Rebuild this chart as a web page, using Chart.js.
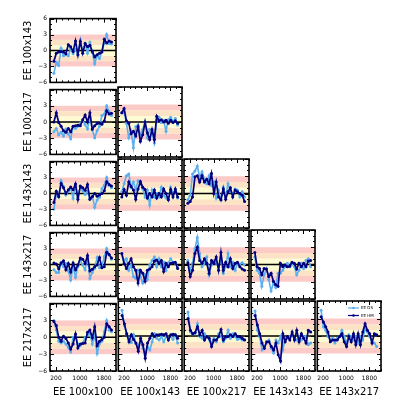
<!DOCTYPE html>
<html>
<head>
<meta charset="utf-8">
<script src="https://cdn.jsdelivr.net/npm/chart.js@4.4.1/dist/chart.umd.min.js"></script>
<style>
  html, body { margin: 0; padding: 0; background: #fff; }
  #wrap { position: relative; width: 414px; height: 414px; overflow: hidden; }
  #wrap canvas { position: absolute; }
</style>
</head>
<body>
<div id="wrap"></div>
<script>
// axis labels
const rowLabels = ["EE 100x143", "EE 100x217", "EE 143x143", "EE 143x217", "EE 217x217"];
const colLabels = ["EE 100x100", "EE 100x143", "EE 100x217", "EE 143x143", "EE 143x217"];

// multipole bins
const ell = [130, 210, 290, 370, 450, 530, 610, 690, 770, 850, 930, 1010, 1090,
  1170, 1250, 1330, 1410, 1490, 1570, 1650, 1730, 1810, 1890, 1970, 2050];

// ticks
const xTickLabels = [200, 1000, 1800];
const xMinorTicks = [0, 200, 400, 600, 800, 1000, 1200, 1400, 1600, 1800, 2000, 2200];
const yTickLabels = [-6, -3, 0, 3, 6];
const yMinorTicks = [-6, -5, -4, -3, -2, -1, 0, 1, 2, 3, 4, 5, 6];

// residuals per panel (row r, column c)
const dsR1C1 = [-4.3, -2.2, -2.8, 0.4, -1.0, -0.8, -1.0, 0.4, -0.6, 0.2, -0.8, 2.0, -0.3, 1.3, -0.5, 1.5, -0.4, -2.5, -0.9, -1.5, -0.2, 1.4, 3.0, 1.3, 1.2];
const hmR1C1 = [-2.0, -0.5, -0.3, -0.2, -0.3, -0.6, 1.1, 0.7, -0.2, 1.8, -0.8, 1.7, -0.5, 1.3, 0.7, 1.0, -0.2, -1.2, -0.8, -0.5, -0.3, 2.1, 1.4, 1.8, 1.6];

const dsR2C1 = [-1.8, -1.2, -2.4, -1.9, -2.6, -1.3, -2.2, -3.1, -0.8, -1.2, -0.8, -0.2, 0.3, -0.5, -1.3, 0.9, -1.5, -2.9, -1.6, -0.8, 1.2, 1.5, 3.0, 1.9, 1.2];
const hmR2C1 = [0.0, 1.7, -0.1, -0.8, -1.6, -1.9, -1.2, -1.8, -0.8, -0.7, -0.6, -0.7, 0.4, 1.3, 0.0, 1.7, -1.3, -0.7, -0.3, -0.2, -0.4, 0.2, 2.1, 1.5, 1.6];
const dsR2C2 = [1.6, 1.7, -0.2, -2.7, -1.6, -4.4, -0.8, -0.5, -2.2, -1.3, 0.0, -2.7, -1.3, -1.9, -3.6, 0.3, 0.8, -0.1, 0.3, -1.6, 0.4, 0.8, 0.1, 0.6, -0.5];
const hmR2C2 = [1.6, 2.3, 0.2, -0.2, -2.0, -1.6, -2.4, -0.8, -3.3, -2.2, 0.0, -1.9, -3.0, -1.3, -3.0, 1.0, 0.2, 0.4, 0.0, 0.3, -0.2, 0.3, -0.1, 0.2, -0.2];

const dsR3C1 = [-2.9, -0.2, -0.5, 2.4, 1.3, -0.3, 0.4, 1.0, -0.9, 1.7, -0.8, 1.3, 0.5, -0.2, 0.4, -1.0, -0.4, -2.6, -1.2, -0.7, 0.9, 1.6, 3.0, 1.5, 1.1];
const hmR3C1 = [-1.7, 0.4, -0.6, 1.9, 1.1, 0.0, 0.7, 1.2, 0.7, 1.8, -1.1, 1.4, 1.1, 0.6, 1.7, -1.1, -0.6, 0.0, -0.5, -0.3, 0.0, 0.5, 2.2, 1.7, 1.4];
const dsR3C2 = [0.3, 1.7, 3.1, 3.4, 1.1, 2.0, 0.6, 2.2, 1.7, 0.8, -0.6, 0.6, -2.0, 0.6, -0.6, 0.0, -0.6, 1.1, -0.3, -0.8, -1.1, 1.1, 0.0, 0.6, -0.8];
const hmR3C2 = [-0.6, 0.7, -0.3, 2.0, 1.2, 0.6, -1.0, 0.8, 2.1, 1.1, 0.7, -0.8, 0.0, -0.6, 0.6, -0.8, 0.0, -0.6, 0.8, 0.0, -1.1, 0.7, -0.6, 0.8, -0.6];
const dsR3C3 = [-1.1, -0.3, 3.4, 3.9, 4.8, 2.8, 3.8, 2.5, 1.7, 3.1, 1.4, 2.0, -0.8, 0.6, -1.1, 1.1, -0.6, 1.7, 0.3, 0.0, 0.8, 0.6, -0.6, 0.3, -0.6];
const hmR3C3 = [-1.7, -1.4, -0.6, 2.9, 3.1, 2.0, 3.1, 2.0, 2.5, 1.7, 3.5, 0.0, 2.0, -0.6, -1.1, 0.8, -1.0, 0.3, 1.0, -0.6, 0.6, 0.3, 0.0, -0.3, -1.4];

const dsR4C1 = [-1.0, -1.5, -1.5, 0.4, -0.4, 0.2, -1.2, -2.9, -0.4, -2.4, -0.4, 0.8, -0.1, -1.0, 1.3, -2.6, -1.5, -0.7, 1.3, -0.6, -0.3, 1.5, 3.0, 1.8, 1.0];
const hmR4C1 = [0.3, 0.1, -0.8, 0.3, 0.7, -1.0, 0.2, -1.4, 0.3, -1.0, -0.1, 1.2, 1.0, 0.2, 1.7, -1.2, -0.9, -0.4, -0.1, 1.3, -0.6, -0.4, 2.3, 1.9, 1.2];
const dsR4C2 = [1.9, 0.7, 1.0, -1.0, -0.1, -2.1, -2.4, -1.0, -2.1, -3.2, -1.8, -2.6, -0.1, 0.7, 1.3, -0.4, 1.0, -0.4, 0.4, -1.0, 0.3, 1.0, 0.4, 0.2, -0.4];
const hmR4C2 = [1.9, 0.2, -0.7, 0.2, 1.0, -0.4, -1.0, -3.2, -1.0, -1.5, -2.9, -1.0, -0.8, -0.4, 0.6, 0.8, 0.2, 0.7, -1.2, 0.2, -0.4, 0.2, 0.3, 0.4, -0.7];
const dsR4C3 = [0.7, -1.0, 0.2, 2.7, 4.7, 1.9, -0.4, 0.2, 1.3, -1.8, -0.1, 0.7, 0.2, -0.4, 0.7, -1.5, -0.4, 1.9, -0.4, 0.4, -1.0, 0.2, 0.1, 0.3, -0.1];
const hmR4C3 = [0.3, -2.1, -1.0, 1.9, 3.0, 0.7, 0.2, 1.0, 0.2, -1.5, 0.7, 0.2, 1.3, -1.0, 2.1, -1.0, 0.4, -0.4, 1.0, -0.7, 0.2, 0.4, -0.4, -0.8, -1.0];
const dsR4C4 = [1.3, -1.0, -1.5, -3.8, -1.8, -0.7, -2.6, -4.6, -3.2, -4.0, -1.5, -1.5, -1.0, -0.4, 0.2, -0.4, 0.2, -0.4, -1.8, -1.0, 0.2, -0.7, 0.7, 1.0, -0.4];
const hmR4C4 = [2.1, -0.4, -0.7, -1.8, -0.7, -0.8, -2.1, -1.5, -2.9, -3.5, -3.8, 0.2, -0.4, -0.1, -0.4, -0.3, 0.4, 0.2, -0.8, 0.2, -0.4, 0.2, -0.4, 0.6, 0.7];

const dsR5C1 = [3.0, 1.3, -0.7, -1.0, -0.7, -1.2, -1.8, -2.6, 0.0, 0.2, -1.2, -1.5, -1.0, -0.1, 0.4, 0.7, -1.2, 0.4, -2.9, -1.2, -0.7, 1.0, 3.0, 1.3, 1.0];
const hmR5C1 = [2.8, 2.1, 0.0, -0.7, 0.2, -0.2, -1.0, -2.1, -1.2, 0.6, -1.9, -1.2, -1.1, -1.0, 0.9, 1.3, -0.1, 1.9, -1.5, -0.7, -0.4, 0.0, 2.4, 1.9, 1.3];
const dsR5C2 = [4.4, 1.8, 0.4, -0.7, -1.1, 0.2, -1.3, -1.8, -0.7, -2.1, -2.9, -1.8, -2.4, -1.0, 0.4, -0.4, -0.7, -0.1, -1.0, -0.1, -0.4, -0.1, -0.6, 0.2, -1.2];
const hmR5C2 = [3.5, 2.1, 0.4, -1.0, 0.2, -0.6, -1.2, -2.6, -0.4, -1.5, -3.8, -1.2, -0.4, 0.4, -0.1, 0.2, 0.2, 0.3, 0.2, 0.4, -0.7, 0.2, 0.3, 0.2, -0.4];
const dsR5C3 = [4.1, 0.7, 0.4, 0.4, 2.1, -0.1, -0.4, 0.4, -0.1, -0.7, -1.2, -0.4, -1.0, 0.4, -0.1, -1.0, -0.4, 1.0, -0.4, 0.4, -0.1, -0.6, -0.4, -0.7, -0.6];
const hmR5C3 = [3.0, 1.0, 0.4, 0.6, 1.6, 0.2, 1.0, -0.7, -0.1, -0.4, -1.8, -0.7, -0.7, -0.1, 1.1, -0.7, -0.1, -0.1, 0.2, -0.1, 0.4, -0.1, -0.1, -0.4, -0.7];
const dsR5C4 = [4.3, 1.0, -0.1, -2.4, -1.8, -1.2, -0.7, -2.1, -2.9, -0.7, -1.2, -0.1, -2.4, -0.4, -0.4, -0.1, 0.2, -0.4, -0.7, -0.1, -0.7, -0.1, -0.1, -1.5, -1.2];
const hmR5C4 = [3.5, 1.9, 0.4, -1.2, -2.1, -1.0, -1.0, -1.8, -2.4, -1.2, -3.2, -4.3, 0.4, -1.0, -0.1, -0.7, 0.7, -0.7, 1.0, -1.0, 0.4, -0.4, -1.2, 1.0, 0.7];
const dsR5C5 = [4.4, 1.6, 1.0, -0.1, -0.7, -0.4, -1.2, -0.4, -0.1, 1.0, -0.1, -1.2, 0.2, -0.1, -0.7, -0.1, -1.2, -0.1, -0.7, 1.3, 0.7, -0.1, -1.0, -1.2, -1.8];
const hmR5C5 = [3.3, 2.4, 1.6, 0.7, -1.0, -0.7, -0.7, -0.7, -0.1, 0.4, -1.0, -1.8, -0.1, -1.0, 0.4, -1.5, 0.4, -1.5, 0.7, 2.1, 1.0, 0.4, -1.2, 0.4, 0.2];

const panels = [
  { r: 0, c: 0, ds: dsR1C1, hm: hmR1C1 },
  { r: 1, c: 0, ds: dsR2C1, hm: hmR2C1 },
  { r: 1, c: 1, ds: dsR2C2, hm: hmR2C2 },
  { r: 2, c: 0, ds: dsR3C1, hm: hmR3C1 },
  { r: 2, c: 1, ds: dsR3C2, hm: hmR3C2 },
  { r: 2, c: 2, ds: dsR3C3, hm: hmR3C3 },
  { r: 3, c: 0, ds: dsR4C1, hm: hmR4C1 },
  { r: 3, c: 1, ds: dsR4C2, hm: hmR4C2 },
  { r: 3, c: 2, ds: dsR4C3, hm: hmR4C3 },
  { r: 3, c: 3, ds: dsR4C4, hm: hmR4C4 },
  { r: 4, c: 0, ds: dsR5C1, hm: hmR5C1 },
  { r: 4, c: 1, ds: dsR5C2, hm: hmR5C2 },
  { r: 4, c: 2, ds: dsR5C3, hm: hmR5C3 },
  { r: 4, c: 3, ds: dsR5C4, hm: hmR5C4 },
  { r: 4, c: 4, ds: dsR5C5, hm: hmR5C5 },
];

// grid layout (panel edges, px)
const colX = [50, 117, 183, 250, 316, 382];
const rowY = [15, 86, 158, 229, 300, 371];
const PAD = 3;
const LEFT_AXIS = 50;
const BOTTOM_AXIS = 36;

const DS_COLOR = "#5aaff0";
const HM_COLOR = "#000080";
const bands = [
  [2, 3, "#fccbc7"], [-3, -2, "#fccbc7"],
  [1, 2, "#fde3c6"], [-2, -1, "#fde3c6"],
  [-1, 1, "#fefad2"],
];

Chart.defaults.font.family = "'DejaVu Sans', sans-serif";
Chart.defaults.color = "#000";

function fmt(v) {
  return v < 0 ? "\u2212" + Math.abs(v) : String(v);
}

const panelDecor = {
  id: "panelDecor",
  beforeDatasetsDraw(chart) {
    const { ctx, chartArea: a, scales: { y } } = chart;
    ctx.save();
    bands.forEach(([lo, hi, col]) => {
      const y1 = y.getPixelForValue(hi);
      const y2 = y.getPixelForValue(lo);
      ctx.fillStyle = col;
      ctx.fillRect(a.left, y1, a.right - a.left, y2 - y1);
    });
    const y0 = y.getPixelForValue(0);
    ctx.strokeStyle = "#000";
    ctx.lineWidth = 1.6;
    ctx.beginPath();
    ctx.moveTo(a.left, y0);
    ctx.lineTo(a.right, y0);
    ctx.stroke();
    ctx.restore();
  },
  afterDatasetsDraw(chart, args, opts) {
    const { ctx, chartArea: a, scales: { x, y } } = chart;
    ctx.save();
    ctx.strokeStyle = "#000";
    ctx.lineWidth = 1;
    ctx.beginPath();
    yMinorTicks.forEach((v) => {
      const p = Math.round(y.getPixelForValue(v)) + 0.5;
      const len = yTickLabels.includes(v) ? 4 : 2;
      ctx.moveTo(a.left, p); ctx.lineTo(a.left + len, p);
      ctx.moveTo(a.right, p); ctx.lineTo(a.right - len, p);
    });
    xMinorTicks.forEach((v) => {
      const p = Math.round(x.getPixelForValue(v)) + 0.5;
      const len = xTickLabels.includes(v) ? 4 : 2;
      ctx.moveTo(p, a.top); ctx.lineTo(p, a.top + len);
      ctx.moveTo(p, a.bottom); ctx.lineTo(p, a.bottom - len);
    });
    ctx.stroke();
    ctx.lineWidth = 1.6;
    ctx.strokeRect(a.left, a.top, a.right - a.left, a.bottom - a.top);

    if (opts.legend) {
      ctx.font = "4px 'DejaVu Sans'";
      ctx.textBaseline = "middle";
      chart.data.datasets.forEach((d, i) => {
        const ly = a.top + 7 + i * 7.5;
        ctx.strokeStyle = d.borderColor;
        ctx.fillStyle = d.borderColor;
        ctx.lineWidth = 1.2;
        ctx.beginPath();
        ctx.moveTo(a.right - 33, ly);
        ctx.lineTo(a.right - 22, ly);
        ctx.stroke();
        ctx.beginPath();
        ctx.arc(a.right - 27.5, ly, 1.3, 0, Math.PI * 2);
        ctx.fill();
        ctx.fillStyle = "#000";
        ctx.fillText(d.label, a.right - 20, ly);
      });
    }
    ctx.restore();
  },
};

const wrap = document.getElementById("wrap");

panels.forEach((p) => {
  const padL = p.c === 0 ? LEFT_AXIS : PAD;
  const padB = p.r === 4 ? BOTTOM_AXIS : PAD;
  const w = colX[p.c + 1] - colX[p.c] + padL + PAD;
  const h = rowY[p.r + 1] - rowY[p.r] + PAD + padB;

  const canvas = document.createElement("canvas");
  canvas.width = w;
  canvas.height = h;
  canvas.style.width = w + "px";
  canvas.style.height = h + "px";
  canvas.style.left = (colX[p.c] - padL) + "px";
  canvas.style.top = (rowY[p.r] - PAD) + "px";
  wrap.appendChild(canvas);

  new Chart(canvas, {
    type: "line",
    data: {
      datasets: [
        {
          label: "EE DS",
          data: ell.map((v, i) => ({ x: v, y: p.ds[i] })),
          borderColor: DS_COLOR,
          backgroundColor: DS_COLOR,
          borderWidth: 1.6,
          pointRadius: 1.5,
          pointBorderWidth: 0,
          tension: 0,
          order: 1,
        },
        {
          label: "EE HM",
          data: ell.map((v, i) => ({ x: v, y: p.hm[i] })),
          borderColor: HM_COLOR,
          backgroundColor: HM_COLOR,
          borderWidth: 1.7,
          pointRadius: 1.5,
          pointBorderWidth: 0,
          tension: 0,
          order: 0,
        },
      ],
    },
    options: {
      responsive: false,
      animation: false,
      events: [],
      layout: {
        padding: { left: p.c === 0 ? 0 : PAD, right: PAD, top: PAD, bottom: p.r === 4 ? 0 : PAD },
      },
      plugins: {
        legend: { display: false },
        tooltip: { enabled: false },
        panelDecor: { legend: p.r === 4 && p.c === 4 },
      },
      scales: {
        x: {
          type: "linear",
          min: 0,
          max: 2200,
          grid: { display: false, drawTicks: false },
          border: { display: false },
          afterBuildTicks: (s) => { s.ticks = xTickLabels.map((v) => ({ value: v })); },
          afterFit: (s) => { s.height = p.r === 4 ? BOTTOM_AXIS : 0; },
          ticks: {
            display: p.r === 4,
            autoSkip: false,
            maxRotation: 0,
            minRotation: 0,
            padding: 4,
            font: { size: 6 },
            callback: (v) => String(v),
          },
          title: {
            display: p.r === 4,
            text: colLabels[p.c],
            font: { size: 10 },
            padding: { top: 0, bottom: 9 },
          },
        },
        y: {
          type: "linear",
          min: -6,
          max: 6,
          grid: { display: false, drawTicks: false },
          border: { display: false },
          afterBuildTicks: (s) => { s.ticks = yTickLabels.map((v) => ({ value: v })); },
          afterFit: (s) => { s.width = p.c === 0 ? LEFT_AXIS : 0; },
          ticks: {
            display: p.c === 0,
            padding: 3,
            font: { size: 6 },
            callback: (v) => (p.r > 0 && v === 6 ? "" : fmt(v)),
          },
          title: {
            display: p.c === 0,
            text: rowLabels[p.r],
            font: { size: 10 },
            padding: { top: 22, bottom: 0 },
          },
        },
      },
    },
    plugins: [panelDecor],
  });
});
</script>
</body>
</html>
